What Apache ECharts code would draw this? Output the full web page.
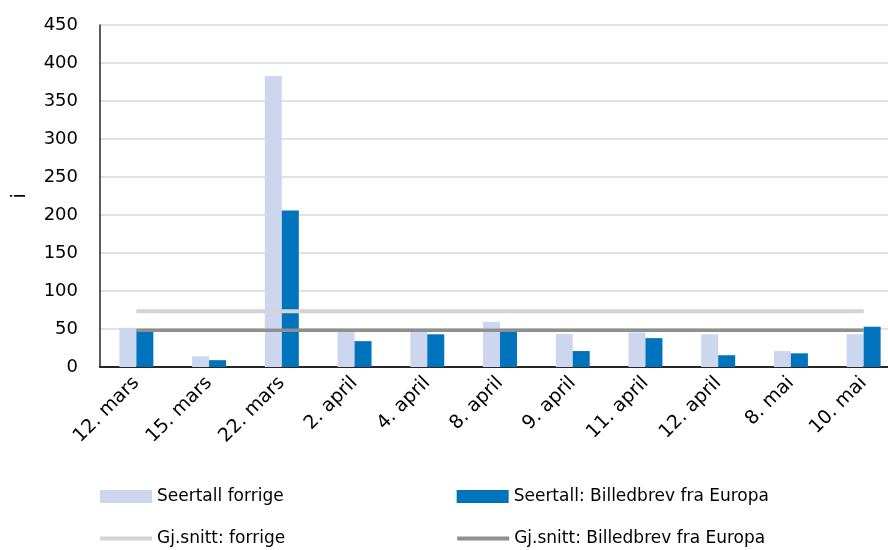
<!DOCTYPE html>
<html>
<head>
<meta charset="utf-8">
<script src="https://cdn.jsdelivr.net/npm/echarts@6/dist/echarts.min.js"></script>
<style>
  html, body { margin: 0; padding: 0; background: #ffffff; }
  #chart { width: 888px; height: 550px; }
</style>
</head>
<body>
<div id="chart"></div>
<script>
// Dates of each viewing
const categories = ['12. mars', '15. mars', '22. mars', '2. april', '4. april', '8. april',
  '9. april', '11. april', '12. april', '8. mai', '10. mai'];

// Viewer counts
const seertallForrige = [51.5, 14, 383, 46, 47, 59.5, 43.5, 45.5, 43, 21, 43];
const seertallBilledbrev = [48, 9, 206, 34, 43, 49, 21, 38, 15.5, 18, 53];

// Averages of each series
const snittForrige = 73.5;
const snittBilledbrev = 48.5;

const yTicks = { min: 0, max: 450, interval: 50 };

const FONT = 'DejaVu Sans';
const chart = echarts.init(document.getElementById('chart'), null, { renderer: 'canvas' });

const lineIcon = 'path://M0,5 L52,5 L52,9 L0,9 Z';

chart.setOption({
  backgroundColor: '#ffffff',
  animation: false,
  textStyle: { fontFamily: FONT, color: '#000000' },
  grid: { left: 100, right: -12, top: 25, bottom: 183, containLabel: false, outerBoundsMode: 'none' },
  legend: [
    {
      left: 100, top: 488, padding: 0, itemWidth: 52, itemHeight: 13, itemGap: 173,
      textStyle: { fontFamily: FONT, fontSize: 17, color: '#000000' },
      data: [
        { name: 'Seertall forrige', icon: 'rect' },
        { name: 'Seertall: Billedbrev fra Europa', icon: 'rect' }
      ]
    },
    {
      left: 100, top: 530, padding: 0, itemWidth: 52, itemHeight: 13, itemGap: 172,
      textStyle: { fontFamily: FONT, fontSize: 17, color: '#000000' },
      data: [
        { name: 'Gj.snitt: forrige', icon: lineIcon },
        { name: 'Gj.snitt: Billedbrev fra Europa', icon: lineIcon }
      ]
    }
  ],
  xAxis: {
    type: 'category',
    data: categories,
    boundaryGap: true,
    axisLine: { show: true, lineStyle: { color: '#262626', width: 2 } },
    axisTick: { show: false },
    axisLabel: { rotate: 45, fontSize: 19, color: '#000000', fontFamily: FONT, margin: 13 },
    splitLine: { show: false }
  },
  yAxis: {
    type: 'value',
    min: yTicks.min, max: yTicks.max, interval: yTicks.interval,
    name: 'i',
    nameLocation: 'middle',
    nameGap: 70,
    nameRotate: 90,
    nameTextStyle: { fontSize: 20, color: '#000000', fontFamily: FONT },
    axisLine: { show: true, lineStyle: { color: '#262626', width: 1.5 } },
    axisTick: { show: false },
    axisLabel: { fontSize: 18, color: '#000000', fontFamily: FONT, margin: 22 },
    splitLine: { show: true, lineStyle: { color: '#D9D9D9', width: 1.5 } }
  },
  series: [
    {
      name: 'Seertall forrige',
      type: 'bar',
      data: seertallForrige,
      barWidth: 17,
      barGap: '0%',
      itemStyle: { color: '#CCD7EF' },
      z: 2
    },
    {
      name: 'Seertall: Billedbrev fra Europa',
      type: 'bar',
      data: seertallBilledbrev,
      barWidth: 17,
      itemStyle: { color: '#0073BD' },
      z: 2
    },
    {
      name: 'Gj.snitt: forrige',
      type: 'line',
      data: categories.map(() => snittForrige),
      symbol: 'none',
      lineStyle: { color: '#D4D4D4', width: 4 },
      itemStyle: { color: '#D4D4D4' },
      z: 5
    },
    {
      name: 'Gj.snitt: Billedbrev fra Europa',
      type: 'line',
      data: categories.map(() => snittBilledbrev),
      symbol: 'none',
      lineStyle: { color: '#8F8F8F', width: 3.5 },
      itemStyle: { color: '#8F8F8F' },
      z: 6
    }
  ]
});
</script>
</body>
</html>
